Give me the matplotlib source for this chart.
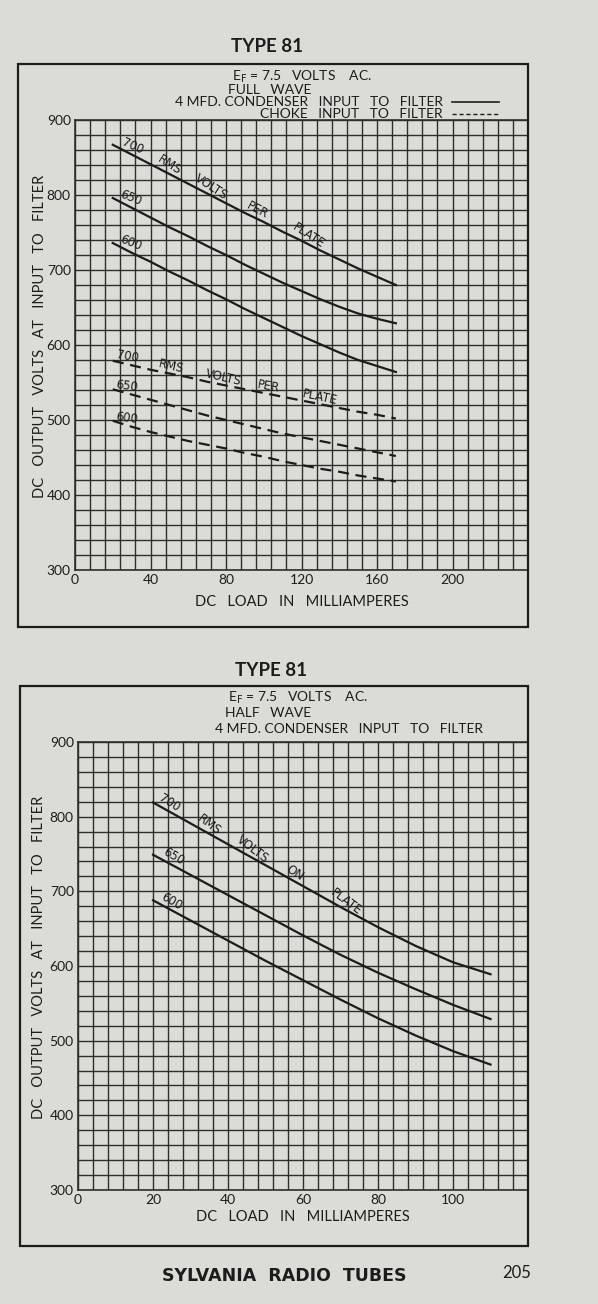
import numpy as np
import matplotlib
matplotlib.use("Agg")
import matplotlib.pyplot as plt
from matplotlib.patches import Rectangle
from matplotlib.lines import Line2D
from matplotlib.transforms import offset_copy

plt.rcParams['font.family'] = ['Lato', 'DejaVu Sans']

# ------------------------------------------------------------------
# Data
# ------------------------------------------------------------------
# Full wave: DC load (mA) vs DC output volts
fw_load = [20, 30, 40, 50, 60, 70, 80, 90, 100, 110, 120, 130, 140, 150, 160, 170]
fw_cond_700 = [867, 854, 841, 828, 815, 802, 789, 776, 764, 751, 739, 726, 714, 702, 691, 680]
fw_cond_650 = [796, 783, 770, 757, 745, 732, 720, 707, 695, 683, 672, 661, 651, 642, 635, 629]
fw_cond_600 = [736, 723, 711, 698, 686, 673, 661, 648, 636, 624, 612, 601, 590, 580, 572, 564]
fw_choke_700 = [579, 573, 567, 562, 557, 551, 546, 541, 536, 531, 526, 521, 516, 511, 507, 502]
fw_choke_650 = [541, 534, 527, 520, 513, 506, 500, 494, 488, 482, 477, 472, 467, 462, 457, 452]
fw_choke_600 = [499, 491, 484, 478, 472, 467, 462, 456, 451, 445, 440, 435, 431, 426, 422, 418]

# Half wave: condenser input only
hw_load = [20, 30, 40, 50, 60, 70, 80, 90, 100, 110]
hw_cond_700 = [819, 791, 763, 735, 707, 679, 652, 627, 605, 589]
hw_cond_650 = [749, 722, 695, 668, 641, 615, 591, 569, 548, 529]
hw_cond_600 = [688, 661, 634, 607, 581, 555, 530, 507, 486, 468]

fw_xticks = [0, 40, 80, 120, 160, 200]
hw_xticks = [0, 20, 40, 60, 80, 100]
yticks = [300, 400, 500, 600, 700, 800, 900]

PAPER = '#dcdcd7'
INK = '#1c1c1c'
GRID = '#2e2e2e'

fig = plt.figure(figsize=(5.98, 13.04), dpi=100)
fig.patch.set_facecolor(PAPER)


def fx(px):
    return px / 598.0


def fy(py):
    return 1 - py / 1304.0


def chart_grid(ax, xmax, xstep, xticks):
    ax.set_facecolor(PAPER)
    ax.set_xlim(0, xmax)
    ax.set_ylim(300, 900)
    ax.set_xticks(xticks)
    ax.set_yticks(yticks)
    ax.set_xticks(np.arange(0, xmax + 0.1, xstep), minor=True)
    ax.set_yticks(np.arange(300, 901, 20), minor=True)
    ax.grid(True, which='both', color=GRID, lw=1.0)
    ax.tick_params(which='both', length=0, colors=INK, labelsize=10, pad=3)
    for s in ax.spines.values():
        s.set_color(GRID)
        s.set_linewidth(1.2)
    ax.set_axisbelow(True)


def words(ax, xs, ys, items, size=8.5, lift=1.0):
    # each word sits just above its curve at the given load
    tr = offset_copy(ax.transData, fig=fig, x=0, y=lift, units='points')
    for txt, x, rot in items:
        y = np.interp(x, xs, ys)
        ax.text(x, y, txt, fontsize=size, color=INK, rotation=rot, transform=tr,
                family='DejaVu Sans', rotation_mode='anchor', ha='center', va='bottom')


# ------------------------------------------------------------------
# Top chart: full wave
# ------------------------------------------------------------------
fig.add_artist(Rectangle((fx(18), fy(627)), fx(510), 563 / 1304.0,
                         fill=False, ec=INK, lw=1.6, transform=fig.transFigure))
fig.text(fx(267), fy(47), 'TYPE 81', fontsize=13.5, fontweight='bold', ha='center', va='center', color=INK)
fig.text(fx(302), fy(77), 'E$_{\\mathrm{F}}$ = 7.5   VOLTS    AC.', fontsize=10, ha='center', va='center', color=INK)
fig.text(fx(228), fy(90), 'FULL   WAVE', fontsize=10, ha='left', va='center', color=INK)
fig.text(fx(443), fy(102), '4 MFD. CONDENSER   INPUT   TO   FILTER', fontsize=10, ha='right', va='center', color=INK)
fig.text(fx(443), fy(114), 'CHOKE   INPUT   TO   FILTER', fontsize=10, ha='right', va='center', color=INK)
fig.add_artist(Line2D([fx(452), fx(499)], [fy(102), fy(102)], color=INK, lw=1.2, transform=fig.transFigure))
fig.add_artist(Line2D([fx(452), fx(499)], [fy(114), fy(114)], color=INK, lw=1.0, ls=(0, (3, 2)), transform=fig.transFigure))

ax1 = fig.add_axes([fx(75), fy(570), fx(453), 450 / 1304.0])
chart_grid(ax1, 240, 8, fw_xticks)
for v in (fw_cond_700, fw_cond_650, fw_cond_600):
    ax1.plot(fw_load, v, color=INK, lw=1.6)
for v in (fw_choke_700, fw_choke_650, fw_choke_600):
    ax1.plot(fw_load, v, color=INK, lw=1.6, dashes=(5, 3))

words(ax1, fw_load, fw_cond_700, [('700', 29, -24), ('RMS', 48, -33), ('VOLTS', 70, -33),
                                  ('PER', 95, -28), ('PLATE', 122, -33)])
words(ax1, fw_load, fw_cond_650, [('650', 28, -22)])
words(ax1, fw_load, fw_cond_600, [('600', 28, -22)])
words(ax1, fw_load, fw_choke_700, [('700', 27, -10), ('RMS', 50, -13), ('VOLTS', 78, -13),
                                   ('PER', 102, -10), ('PLATE', 129, -12)], lift=0.5)
words(ax1, fw_load, fw_choke_650, [('650', 27, -8)], lift=0.5)
words(ax1, fw_load, fw_choke_600, [('600', 27, -8)], lift=0.5)

ax1.set_xlabel('DC   LOAD   IN   MILLIAMPERES', fontsize=10.5, color=INK, labelpad=6)
ax1.set_ylabel('DC   OUTPUT   VOLTS   AT   INPUT   TO   FILTER', fontsize=10.5, color=INK)
ax1.yaxis.set_label_coords(-0.062, 0.52)

# ------------------------------------------------------------------
# Bottom chart: half wave
# ------------------------------------------------------------------
fig.add_artist(Rectangle((fx(20), fy(1246)), fx(508), 560 / 1304.0,
                         fill=False, ec=INK, lw=1.6, transform=fig.transFigure))
fig.text(fx(271), fy(670), 'TYPE 81', fontsize=13.5, fontweight='bold', ha='center', va='center', color=INK)
fig.text(fx(298), fy(698), 'E$_{\\mathrm{F}}$ = 7.5   VOLTS    AC.', fontsize=10, ha='center', va='center', color=INK)
fig.text(fx(225), fy(713), 'HALF   WAVE', fontsize=10, ha='left', va='center', color=INK)
fig.text(fx(483), fy(729), '4 MFD. CONDENSER   INPUT   TO   FILTER', fontsize=10, ha='right', va='center', color=INK)

ax2 = fig.add_axes([fx(78), fy(1190), fx(450), 448 / 1304.0])
chart_grid(ax2, 120, 4, hw_xticks)
for v in (hw_cond_700, hw_cond_650, hw_cond_600):
    ax2.plot(hw_load, v, color=INK, lw=1.6)

words(ax2, hw_load, hw_cond_700, [('700', 23.5, -32), ('RMS', 34, -37), ('VOLTS', 45.5, -37),
                                  ('ON', 57, -33), ('PLATE', 70.5, -37)])
words(ax2, hw_load, hw_cond_650, [('650', 24.5, -30)])
words(ax2, hw_load, hw_cond_600, [('600', 24, -30)])

ax2.set_xlabel('DC   LOAD   IN   MILLIAMPERES', fontsize=10.5, color=INK, labelpad=3)
ax2.set_ylabel('DC   OUTPUT   VOLTS   AT   INPUT   TO   FILTER', fontsize=10.5, color=INK)
ax2.yaxis.set_label_coords(-0.071, 0.52)

# footer
fig.text(fx(284), fy(1276), 'SYLVANIA  RADIO  TUBES', fontsize=12.5, family='DejaVu Sans',
         fontweight='bold', ha='center', va='center', color=INK)
fig.text(fx(517), fy(1273), '205', fontsize=12, ha='center', va='center', color=INK)

fig.savefig('out.png', dpi=100, facecolor=PAPER)
